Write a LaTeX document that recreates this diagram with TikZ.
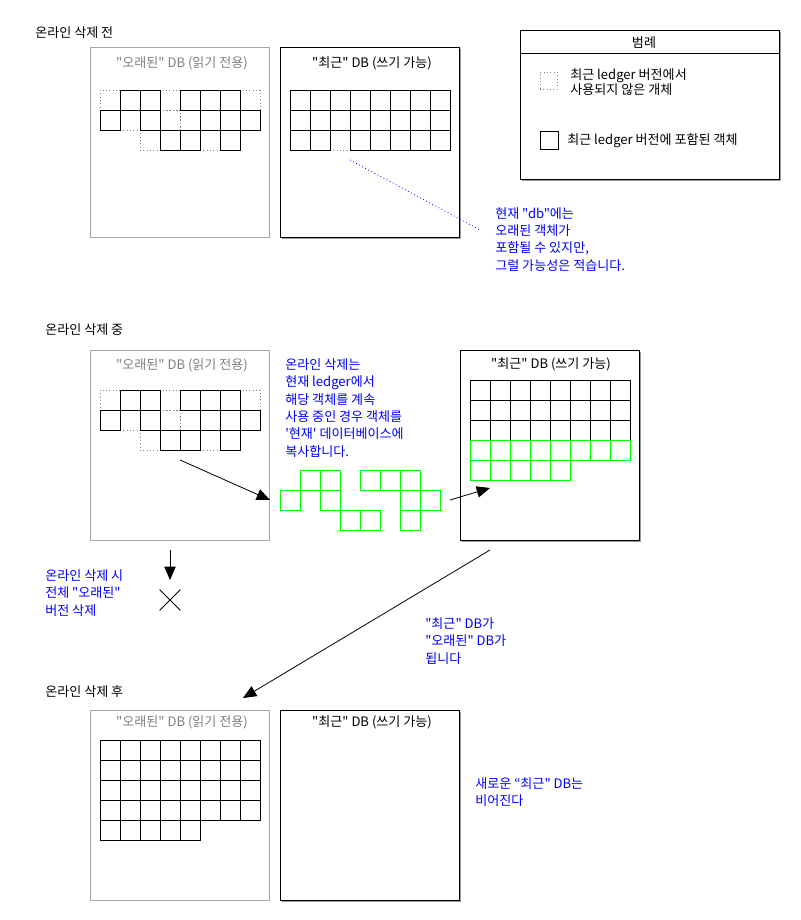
\documentclass[tikz,border=0pt]{standalone}
\usepackage{fontspec}
\setmainfont{Noto Sans CJK KR}[Ligatures=TeXOff]
\usetikzlibrary{arrows.meta,shadows,shapes.misc}

\tikzset{
  every node/.style={inner sep=0pt, font=\fontsize{9.8}{13}\selectfont},
  sc/.style={draw, fill=white, line width=0.6pt, minimum size=15pt,
    drop shadow={shadow xshift=0.7pt, shadow yshift=-0.7pt, fill=gray!70, opacity=1}},
  dc/.style={draw=gray, dotted, line width=0.5pt, minimum size=15pt},
  gc/.style={draw=green, fill=white, line width=0.6pt, minimum size=15pt,
    drop shadow={shadow xshift=0.7pt, shadow yshift=-0.7pt, fill=green!45, opacity=1}},
  dbbox/.style={anchor=north west, fill=white, line width=0.6pt,
    minimum width=134.25pt, minimum height=142.5pt},
  olddb/.style={dbbox, draw=gray!70,
    drop shadow={shadow xshift=0.8pt, shadow yshift=-0.8pt, fill=gray!35, opacity=1}},
  newdb/.style={dbbox, draw,
    drop shadow={shadow xshift=1pt, shadow yshift=-1pt, fill=gray!80, opacity=1}},
  legbox/.style={anchor=north west, draw, fill=white, line width=0.6pt,
    minimum width=194.25pt, minimum height=111.75pt,
    drop shadow={shadow xshift=1pt, shadow yshift=-1pt, fill=gray!80, opacity=1}},
  oldhead/.style={anchor=base, text=gray},
  newhead/.style={anchor=base},
  stage/.style={anchor=base west},
  note/.style={anchor=north west, align=left, text=blue},
  flow/.style={-{Triangle[length=10pt,width=8.5pt]}, line width=0.6pt},
}

\begin{document}
\begin{tikzpicture}[x=0.75pt, y=-0.75pt]
\useasboundingbox (0,0) rectangle (800,920);

% legend
\node [legbox] (leg) at (520,30) {};
\node [anchor=base] (legt) at (644,47.5) {범례};
\coordinate (legl) at (520,53);
\coordinate (legr) at (779,53);
\draw [line width=0.6pt] (legl) -- (legr);
\node [dc, minimum size=12.75pt] (legd) at (548.5,80.5) {};
\node [anchor=north west, align=left, font=\fontsize{9.8}{10.5}\selectfont] (legdt) at (570,68.5) {최근 ledger 버전에서\\사용되지 않은 개체};
\node [sc, minimum size=13.5pt] (legs) at (549.5,140) {};
\node [stage] (legst) at (567,144.5) {최근 ledger 버전에 포함된 객체};

% before
\node [stage] (stage1) at (35,37.5) {온라인 삭제 전};
\node [olddb] (old1) at (90,47) {};
\node [newdb] (new1) at (280,47) {};
\node [oldhead] (oldh1) at (182,67.5) {"오래된" DB (읽기 전용)};
\node [newhead] (newh1) at (372,67.5) {"최근" DB (쓰기 가능)};
\begin{scope}[shift={(100,90)}]
  \foreach \r/\c in {1/1,1/4,1/8,2/2,2/4,2/5,3/3,3/6} \node [dc] at (20*\c-10,20*\r-10) {};
  \foreach \r/\c in {1/2,1/3,1/5,1/6,1/7,2/1,2/3,2/6,2/7,2/8,3/4,3/5,3/7} \node [sc] at (20*\c-10,20*\r-10) {};
\end{scope}
\begin{scope}[shift={(290,90)}]
  \node [dc] at (50,50) {};
  \foreach \r in {1,2} \foreach \c in {1,...,8} \node [sc] at (20*\c-10,20*\r-10) {};
  \foreach \c in {1,2,4,5,6,7,8} \node [sc] at (20*\c-10,50) {};
\end{scope}
\node [note] (note1) at (495,207) {현재 "db"에는\\오래된 객체가\\포함될 수 있지만,\\그럴 가능성은 적습니다.};
\coordinate (hint) at (350,160);
\coordinate (hintend) at (480,230);
\draw [blue, dotted, line width=0.6pt] (hint) -- (hintend);

% during
\node [stage] (stage2) at (45,334.5) {온라인 삭제 중};
\node [olddb] (old2) at (90,350) {};
\node [newdb] (new2) at (460,350) {};
\node [oldhead] (oldh2) at (182,369.5) {"오래된" DB (읽기 전용)};
\node [newhead] (newh2) at (551,368.5) {"최근" DB (쓰기 가능)};
\begin{scope}[shift={(100,390)}]
  \foreach \r/\c in {1/1,1/4,1/8,2/2,2/4,2/5,3/3,3/6} \node [dc] at (20*\c-10,20*\r-10) {};
  \foreach \r/\c in {1/2,1/3,1/5,1/6,1/7,2/1,2/3,2/6,2/7,2/8,3/4,3/5,3/7} \node [sc] at (20*\c-10,20*\r-10) {};
\end{scope}
\begin{scope}[shift={(280,470)}]
  \foreach \r/\c in {1/2,1/3,1/5,1/6,1/7,2/1,2/3,2/7,2/8,3/4,3/5,3/7} \node [gc] at (20*\c-10,20*\r-10) {};
\end{scope}
\begin{scope}[shift={(470,380)}]
  \node [dc] at (50,50) {};
  \foreach \r in {1,2} \foreach \c in {1,...,8} \node [sc] at (20*\c-10,20*\r-10) {};
  \foreach \c in {1,2,4,5,6,7,8} \node [sc] at (20*\c-10,50) {};
  \foreach \c in {1,...,8} \node [gc] at (20*\c-10,70) {};
  \foreach \c in {1,...,5} \node [gc] at (20*\c-10,90) {};
\end{scope}
\node [note] (note2) at (285,358.5) {온라인 삭제는\\현재 ledger에서\\해당 객체를 계속\\사용 중인 경우 객체를\\'현재' 데이터베이스에\\복사합니다.};
\coordinate (copyfrom) at (180,460);
\coordinate (copyto) at (270,500);
\draw [flow] (copyfrom) -- (copyto);
\coordinate (keepfrom) at (450,500);
\coordinate (keepto) at (490,488);
\draw [flow] (keepfrom) -- (keepto);
\coordinate (dropfrom) at (170,550);
\coordinate (dropto) at (170,580);
\draw [flow] (dropfrom) -- (dropto);
\node [cross out, draw, line width=0.6pt, minimum size=15pt] (gone) at (170,600) {};
\node [note] (note3) at (45,569.5) {온라인 삭제 시\\전체 "오래된"\\버전 삭제};
\coordinate (swapfrom) at (490,550);
\coordinate (swapto) at (243,698);
\draw [flow] (swapfrom) -- (swapto);
\node [note] (note4) at (425,617.5) {"최근" DB가\\"오래된" DB가\\됩니다};

% after
\node [stage] (stage3) at (45,696.5) {온라인 삭제 후};
\node [olddb] (old3) at (90,710) {};
\node [newdb] (new3) at (280,710) {};
\node [oldhead] (oldh3) at (182,726.5) {"오래된" DB (읽기 전용)};
\node [newhead] (newh3) at (372,726.5) {"최근" DB (쓰기 가능)};
\begin{scope}[shift={(100,740)}]
  \node [dc] at (50,50) {};
  \foreach \r in {1,2,4} \foreach \c in {1,...,8} \node [sc] at (20*\c-10,20*\r-10) {};
  \foreach \c in {1,2,4,5,6,7,8} \node [sc] at (20*\c-10,50) {};
  \foreach \c in {1,...,5} \node [sc] at (20*\c-10,90) {};
\end{scope}
\node [note] (note5) at (475,777.5) {새로운 “최근" DB는\\비어진다};
\end{tikzpicture}
\end{document}
